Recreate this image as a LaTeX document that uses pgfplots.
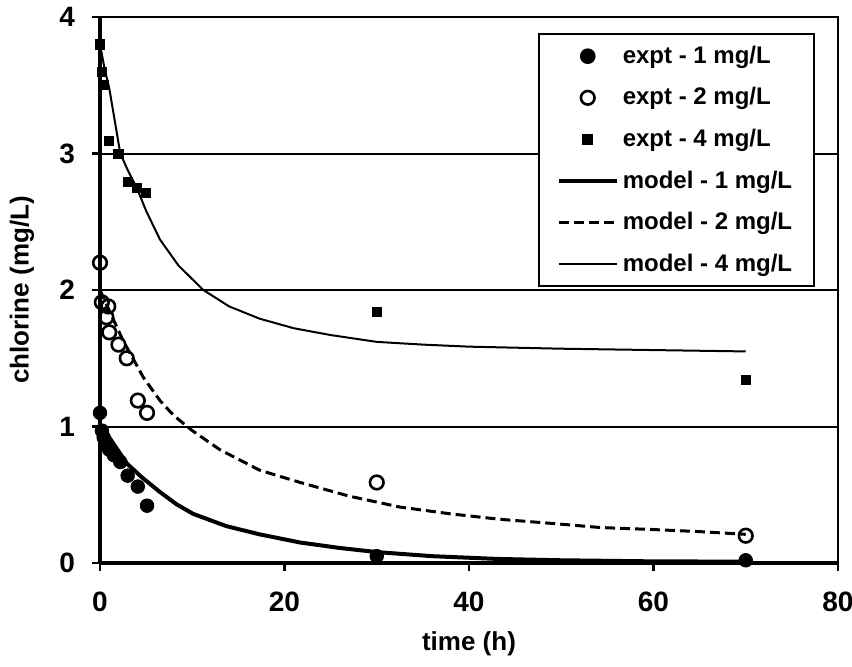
\documentclass[border=0pt]{standalone}
\usepackage{fontspec}
\setmainfont{Liberation Sans}
\usepackage{pgfplots}
\pgfplotsset{compat=1.18}

\pgfplotsset{
  mylegline/.style={legend image code/.code={\draw[##1] (0pt,0pt) -- (29pt,0pt);}},
  mylegmark/.style={legend image code/.code={\draw[##1] plot coordinates {(14.5pt,0pt)};}},
}

\begin{document}
\begin{tikzpicture}
\useasboundingbox (-50pt,-51.5pt) rectangle (376pt,281.5pt);
\begin{axis}[
  scale only axis,
  width=369pt, height=273pt,
  xmin=0, xmax=80, ymin=0, ymax=4,
  xtick={0,20,40,60,80}, ytick={0,1,2,3,4},
  xtick pos=bottom, ytick pos=left,
  tick align=outside,
  major tick length=4pt,
  tick style={black, line width=1.2pt},
  ymajorgrids,
  grid style={black, line width=1pt},
  axis line style={black, line width=1.2pt},
  every tick label/.append style={font=\bfseries\fontsize{14}{14}\selectfont},
  xticklabel style={yshift=-7pt},
  yticklabel style={xshift=-5pt},
  /pgf/number format/assume math mode=true,
  xlabel={\bfseries time (h)},
  ylabel={\bfseries chlorine (mg/L)},
  label style={font=\bfseries\fontsize{13}{13}\selectfont},
  xlabel style={at={(axis description cs:0.5,-0.148)}, anchor=center},
  ylabel style={at={(axis description cs:-0.1057,0.5)}, anchor=center},
  clip=false,
  legend style={at={(0.969,0.9707)}, anchor=north east, draw=black, line width=1pt,
    font=\bfseries\fontsize{12}{12}\selectfont, row sep=6.6pt, inner xsep=9pt, inner ysep=4pt,
    cells={anchor=west}},
]
\addplot[only marks, mark=*, mark size=3.4pt, black, mylegmark] coordinates {
 (0,1.10) (0.2,0.97) (0.4,0.92) (0.7,0.87) (1,0.83) (1.5,0.79) (2.2,0.74)
 (3,0.64) (4.1,0.56) (5.1,0.42) (30,0.05) (70,0.02)
};
\addlegendentry{expt - 1 mg/L}
\addplot[only marks, mark=o, mark size=3.4pt, black, line width=1.3pt, mylegmark] coordinates {
 (0,2.20) (0.2,1.91) (0.9,1.88) (0.7,1.80) (1,1.69) (2,1.60) (2.9,1.50)
 (4.1,1.19) (5.1,1.10) (30,0.59) (70,0.20)
};
\addlegendentry{expt - 2 mg/L}
\addplot[only marks, mark=square*, mark size=2.3pt, black, mylegmark] coordinates {
 (0,3.80) (0.2,3.60) (0.4,3.50) (1,3.09) (2,3.00) (3,2.79) (4,2.75) (5,2.71)
 (30,1.84) (70,1.34)
};
\addlegendentry{expt - 4 mg/L}
\addplot[black, line width=2pt, mylegline] coordinates {
 (0,1.00) (1,0.92) (2,0.82) (2.9,0.73) (4.5,0.63) (6.5,0.52) (8.3,0.43) (10.1,0.36)
 (13.7,0.27) (17.3,0.21) (21.7,0.15) (26,0.11) (30,0.08) (36,0.05) (43,0.03)
 (50,0.02) (60,0.012) (70,0.01)
};
\addlegendentry{model - 1 mg/L}
\addplot[black, line width=1.5pt, dash pattern=on 5pt off 2.5pt, mylegline] coordinates {
 (0,2.00) (1,1.85) (2.5,1.63) (4.7,1.36) (6.5,1.19) (8,1.08) (10,0.97) (13,0.83)
 (17.3,0.68) (21.7,0.59) (27,0.49) (32.5,0.41) (38,0.36) (43.4,0.32) (49,0.29)
 (54.2,0.26) (60,0.245) (65,0.23) (70,0.21)
};
\addlegendentry{model - 2 mg/L}
\addplot[black, line width=1pt, mylegline] coordinates {
 (0,3.80) (0.5,3.62) (1,3.48) (2.2,3.00) (3,2.88) (4.1,2.73) (5,2.58) (6.5,2.37)
 (8.5,2.18) (11.2,2.00) (14,1.88) (17.3,1.79) (21,1.72) (25,1.67) (30,1.62)
 (35,1.60) (40,1.585) (50,1.57) (60,1.56) (70,1.55)
};
\addlegendentry{model - 4 mg/L}
\draw[black, line width=2pt] (axis cs:0,0) -- (axis cs:0,4);
\draw[black, line width=1.6pt] (axis cs:0,0) -- (axis cs:80,0);
\end{axis}
\end{tikzpicture}
\end{document}
